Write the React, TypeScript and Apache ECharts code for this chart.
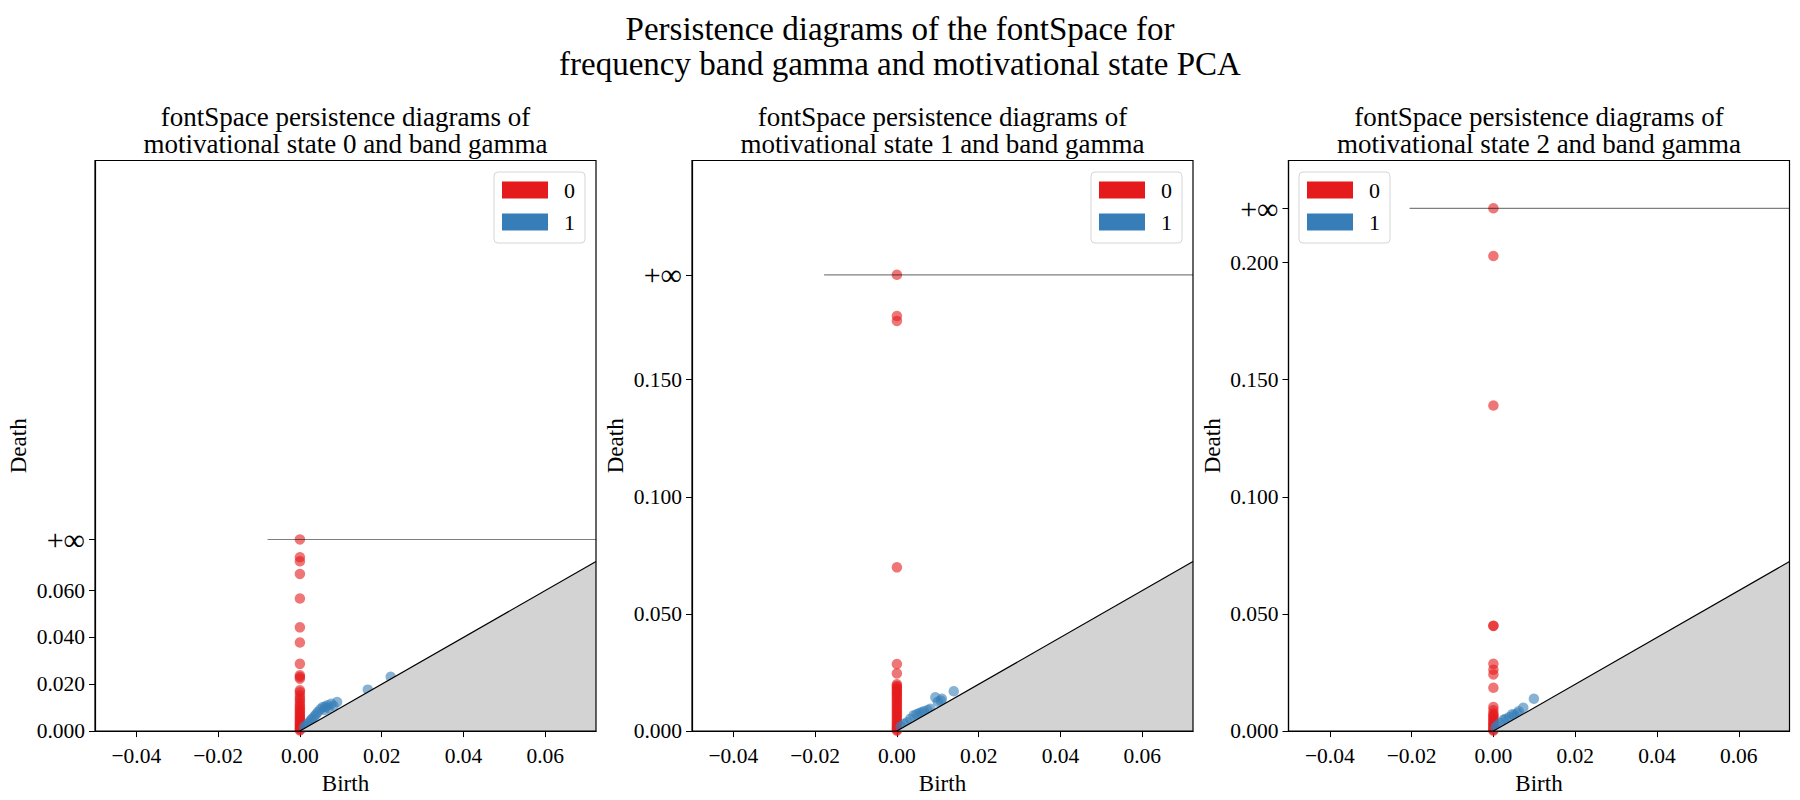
import { useEffect, useRef } from 'react';
import * as echarts from 'echarts';

const FONT = '"Liberation Serif", "Times New Roman", serif';
const RED = '#e41a1c';
const BLUE = '#377eb8';

const SUPTITLE = [
  'Persistence diagrams of the fontSpace for',
  'frequency band gamma and motivational state PCA',
];
const STATES = ['0', '1', '2'];

// shared axis ranges of the three panels
const X_MIN = -0.0501;
const X_MAX = 0.0724;
const Y_MIN = 0;
const Y_MAX = 0.2436;
const X_TICKS = [-0.04, -0.02, 0, 0.02, 0.04, 0.06];
const Y_TICKS = [
  [0, 0.02, 0.04, 0.06],
  [0, 0.05, 0.1, 0.15],
  [0, 0.05, 0.1, 0.15, 0.2],
];

// where "+inf" is drawn and where the infinity line starts
const INF_DEATH = [0.0818, 0.1948, 0.2232];
const INF_LINE_START = [-0.0079, -0.0178, -0.0205];

// all H0 classes are born at 0
const H0_BIRTH = 0;
const H0_DEATHS_0 = [
  0.0742, 0.0725, 0.0671, 0.0566, 0.0443, 0.0378, 0.0287, 0.0238, 0.0231, 0.0224,
  0.0174, 0.0166, 0.0153, 0.0141, 0.0132, 0.012, 0.011, 0.0101, 0.0093, 0.0085,
  0.0077, 0.0069, 0.0062, 0.0055, 0.0048, 0.0041, 0.0035, 0.0029, 0.0023, 0.0017,
  0.0012, 0.0007, 0.0003,
];
const H0_DEATHS_1 = [
  0.1772, 0.1751, 0.0699, 0.0286, 0.0246, 0.02, 0.0193, 0.0187, 0.018, 0.0173,
  0.0165, 0.0158, 0.0152, 0.0144, 0.0136, 0.0128, 0.012, 0.0112, 0.0104, 0.0096,
  0.0088, 0.008, 0.0072, 0.0064, 0.0056, 0.0048, 0.004, 0.0032, 0.0025, 0.0018,
  0.0012, 0.0006, 0.0002,
];
const H0_DEATHS_2 = [
  0.2028, 0.139, 0.045, 0.0449, 0.0287, 0.0262, 0.0242, 0.0185, 0.0103, 0.0089,
  0.0075, 0.0068, 0.0061, 0.0054, 0.0047, 0.004, 0.0034, 0.0028, 0.0022, 0.0016,
  0.001, 0.0005, 0.0002,
];

// H1 classes as [birth, death]
const H1_PAIRS_0 = [
  [0.0222, 0.0232], [0.0166, 0.0177], [0.0091, 0.0124], [0.0082, 0.0108],
  [0.0077, 0.0117], [0.007, 0.0098], [0.0067, 0.011], [0.0062, 0.0104],
  [0.006, 0.009], [0.0056, 0.0103], [0.005, 0.0093], [0.0044, 0.0082],
  [0.004, 0.0072], [0.0036, 0.0064], [0.0031, 0.0055], [0.0027, 0.0047],
  [0.0023, 0.0038], [0.0019, 0.003], [0.0014, 0.0022], [0.001, 0.0016],
];
const H1_PAIRS_1 = [
  [0.0139, 0.017], [0.0094, 0.0144], [0.011, 0.0138], [0.0107, 0.013],
  [0.01, 0.0125], [0.0082, 0.0095], [0.0075, 0.009], [0.0066, 0.0085],
  [0.006, 0.008], [0.0054, 0.0076], [0.0048, 0.0072], [0.0041, 0.0067],
  [0.0033, 0.0052], [0.0025, 0.0038], [0.0017, 0.003], [0.0009, 0.0019],
];
const H1_PAIRS_2 = [
  [0.0099, 0.0138], [0.0073, 0.01], [0.0062, 0.0085], [0.0058, 0.0075],
  [0.005, 0.0068], [0.0046, 0.0072], [0.0038, 0.0059], [0.003, 0.0052],
  [0.0025, 0.0048], [0.0017, 0.0035], [0.0009, 0.0024], [0.0005, 0.0015],
];

const H0_DEATHS = [H0_DEATHS_0, H0_DEATHS_1, H0_DEATHS_2];
const H1_PAIRS = [H1_PAIRS_0, H1_PAIRS_1, H1_PAIRS_2];

const GRID_LEFT = [95, 692, 1288.5];
const GRID_TOP = 160.5;
const GRID_WIDTH = 501;
const GRID_HEIGHT = 574.5;
const LEGEND_LEFT = [494, 1091, 1299];

const fmtX = (v: number) => (v < 0 ? '\u2212' + Math.abs(v).toFixed(2) : v.toFixed(2));

function buildOption(): echarts.EChartsCoreOption {
  const textBase = { fontFamily: FONT, color: '#000' };

  const grid = GRID_LEFT.map((left) => ({
    left,
    top: GRID_TOP,
    width: GRID_WIDTH,
    height: GRID_HEIGHT,
    show: true,
    z: 10,
    backgroundColor: 'transparent',
    borderColor: '#000',
    borderWidth: 1.2,
  }));

  const xAxis = STATES.map((_, i) => ({
    type: 'value',
    gridIndex: i,
    min: X_MIN,
    max: X_MAX,
    name: 'Birth',
    nameLocation: 'middle',
    nameGap: 27,
    nameTextStyle: { ...textBase, fontSize: 23 },
    axisLine: { show: true, onZero: false, lineStyle: { color: '#000', width: 1.2 } },
    axisTick: { show: true, length: 6, customValues: X_TICKS, lineStyle: { color: '#000' } },
    axisLabel: { customValues: X_TICKS, formatter: fmtX, margin: 14, ...textBase, fontSize: 21.5 },
    splitLine: { show: false },
  }));

  const yAxis = STATES.map((_, i) => {
    const ticks = [...Y_TICKS[i], INF_DEATH[i]];
    return {
      type: 'value',
      gridIndex: i,
      min: Y_MIN,
      max: Y_MAX,
      name: 'Death',
      nameLocation: 'middle',
      nameGap: 65,
      nameTextStyle: { ...textBase, fontSize: 23 },
      axisLine: { show: true, onZero: false, lineStyle: { color: '#000', width: 1.2 } },
      axisTick: { show: true, length: 6, customValues: ticks, lineStyle: { color: '#000' } },
      axisLabel: {
        customValues: ticks,
        formatter: (v: number) =>
          Math.abs(v - INF_DEATH[i]) < 1e-9 ? '{inf|+\u221e}' : v.toFixed(3),
        margin: 10,
        ...textBase,
        fontSize: 21.5,
        rich: { inf: { fontFamily: FONT, fontSize: 30, color: '#000' } },
      },
      splitLine: { show: false },
    };
  });

  const series: any[] = [];
  STATES.forEach((_, i) => {
    series.push({
      type: 'scatter',
      name: '0',
      xAxisIndex: i,
      yAxisIndex: i,
      symbolSize: 10.5,
      itemStyle: { color: RED, opacity: 0.6 },
      data: [[H0_BIRTH, INF_DEATH[i]], ...H0_DEATHS[i].map((d) => [H0_BIRTH, d])],
      z: 2,
      silent: true,
    });
    series.push({
      type: 'scatter',
      name: '1',
      xAxisIndex: i,
      yAxisIndex: i,
      symbolSize: 10.5,
      itemStyle: { color: BLUE, opacity: 0.6 },
      data: H1_PAIRS[i],
      z: 2,
      silent: true,
    });
    // diagonal and the shaded region under it
    series.push({
      type: 'line',
      name: 'diagonal',
      xAxisIndex: i,
      yAxisIndex: i,
      symbol: 'none',
      data: [
        [0, 0],
        [X_MAX, X_MAX],
      ],
      lineStyle: { color: '#000', width: 1.2 },
      areaStyle: { color: '#d3d3d3', opacity: 1, origin: 'start' },
      z: 3,
      silent: true,
    });
    series.push({
      type: 'line',
      name: 'infinity',
      xAxisIndex: i,
      yAxisIndex: i,
      symbol: 'none',
      data: [
        [INF_LINE_START[i], INF_DEATH[i]],
        [X_MAX, INF_DEATH[i]],
      ],
      lineStyle: { color: '#000', opacity: 0.5, width: 1.2 },
      z: 4,
      silent: true,
    });
  });

  const legend = LEGEND_LEFT.map((left) => ({
    orient: 'vertical',
    left,
    top: 172,
    data: [
      { name: '0', icon: 'rect', itemStyle: { color: RED, opacity: 1 } },
      { name: '1', icon: 'rect', itemStyle: { color: BLUE, opacity: 1 } },
    ],
    itemWidth: 46,
    itemHeight: 17,
    itemGap: 10,
    padding: [7, 10, 10, 8],
    borderColor: '#d6d6d6',
    borderWidth: 1,
    borderRadius: 4,
    backgroundColor: 'rgba(255,255,255,0.8)',
    selectedMode: false,
    textStyle: { ...textBase, fontSize: 22, padding: [0, 0, 0, 11] },
    z: 12,
  }));

  const graphic: any[] = [
    ...SUPTITLE.map((text, k) => ({
      type: 'text',
      x: 900,
      y: 29 + k * 35,
      style: { text, fontFamily: FONT, fontSize: 33, fill: '#000', align: 'center', verticalAlign: 'middle' },
    })),
  ];
  STATES.forEach((s, i) => {
    const cx = GRID_LEFT[i] + GRID_WIDTH / 2;
    ['fontSpace persistence diagrams of', `motivational state ${s} and band gamma`].forEach((text, k) => {
      graphic.push({
        type: 'text',
        x: cx,
        y: 117 + k * 27,
        style: { text, fontFamily: FONT, fontSize: 27, fill: '#000', align: 'center', verticalAlign: 'middle' },
      });
    });
  });

  return {
    animation: false,
    backgroundColor: '#fff',
    grid,
    xAxis,
    yAxis,
    legend,
    series,
    graphic,
  };
}

export default function App() {
  const chartRef = useRef<HTMLDivElement | null>(null);

  useEffect(() => {
    document.body.style.margin = '0';
    if (!chartRef.current) return;
    const chart = echarts.init(chartRef.current, null, { renderer: 'svg' });
    chart.setOption(buildOption());
    return () => {
      chart.dispose();
    };
  }, []);

  return <div ref={chartRef} style={{ width: 1800, height: 800 }} />;
}
